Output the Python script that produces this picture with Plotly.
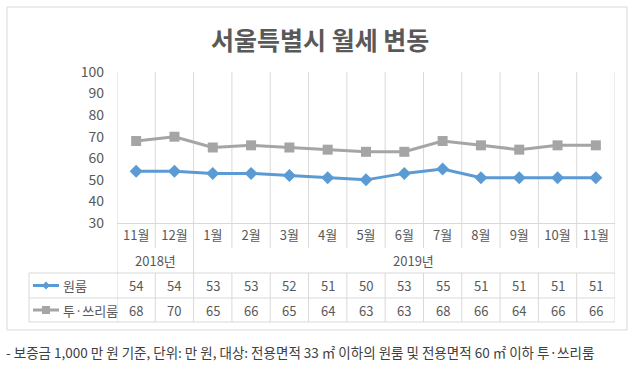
import plotly.graph_objects as go

months = ["11월", "12월", "1월", "2월", "3월", "4월", "5월", "6월", "7월", "8월", "9월", "10월", "11월"]
years = ["2018년", "2019년"]
year_spans = [2, 11]
series_names = ["원룸", "투·쓰리룸"]
oneroom = [54, 54, 53, 53, 52, 51, 50, 53, 55, 51, 51, 51, 51]
tworoom = [68, 70, 65, 66, 65, 64, 63, 63, 68, 66, 64, 66, 66]
title = "서울특별시 월세 변동"
note = "- 보증금 1,000 만 원 기준, 단위: 만 원, 대상: 전용면적 33 ㎡ 이하의 원룸 및 전용면적 60 ㎡ 이하 투·쓰리룸"

W, H = 640, 380
FONT = "Noto Sans CJK KR"
TXT = "#595959"
GRID = "#D9D9D9"
BLUE = "#5B9BD5"
GRAY = "#A5A5A5"

def px(x):
    return x / W

def py(y):
    return 1 - y / H

X0, X1 = 117, 615
Y_TOP, Y_BOT = 72, 223
n = len(months)
xs = list(range(n))

fig = go.Figure()
fig.add_trace(go.Scatter(x=xs, y=oneroom, mode="lines+markers", name=series_names[0],
                         line=dict(color=BLUE, width=3),
                         marker=dict(symbol="diamond", size=10, color=BLUE)))
fig.add_trace(go.Scatter(x=xs, y=tworoom, mode="lines+markers", name=series_names[1],
                         line=dict(color=GRAY, width=3),
                         marker=dict(symbol="square", size=10, color=GRAY)))

shapes = []
annotations = []

def ann(x, y, text, size=13, color=TXT, xref="paper", xanchor="center"):
    annotations.append(dict(x=x, y=y, xref=xref, yref="paper", text=text, showarrow=False,
                            xanchor=xanchor, yanchor="middle",
                            font=dict(family=FONT, size=size, color=color)))

# outer border
shapes.append(dict(type="rect", xref="paper", yref="paper", x0=px(7), x1=px(627), y0=py(330), y1=py(7),
                   line=dict(color=GRID, width=1)))

# month row vertical lines
for i in range(n + 1):
    shapes.append(dict(type="line", xref="x", yref="paper", x0=i - 0.5, x1=i - 0.5,
                       y0=py(248), y1=py(223), line=dict(color=GRID, width=1)))
# year row boundaries
b = -0.5
shapes.append(dict(type="line", xref="x", yref="paper", x0=b, x1=b, y0=py(273), y1=py(248), line=dict(color=GRID, width=1)))
for k, (ys, yr) in enumerate(zip(year_spans, years)):
    ann(b + ys / 2 + (0.25 if k == 1 else 0), py(260.5), yr, xref="x")
    b += ys
    shapes.append(dict(type="line", xref="x", yref="paper", x0=b, x1=b, y0=py(273), y1=py(248), line=dict(color=GRID, width=1)))
# data rows
for i in range(n + 1):
    shapes.append(dict(type="line", xref="x", yref="paper", x0=i - 0.5, x1=i - 0.5,
                       y0=py(322), y1=py(273), line=dict(color=GRID, width=1)))
shapes.append(dict(type="line", xref="paper", yref="paper", x0=px(29), x1=px(29), y0=py(322), y1=py(273), line=dict(color=GRID, width=1)))
for yy in [273, 298, 322]:
    shapes.append(dict(type="line", xref="paper", yref="paper", x0=px(29), x1=px(X1), y0=py(yy), y1=py(yy), line=dict(color=GRID, width=1)))

for r, (vals, name, col, sym) in enumerate([(oneroom, series_names[0], BLUE, "diamond"),
                                            (tworoom, series_names[1], GRAY, "square")]):
    yc = 285.5 + r * 24.5
    for i, v in enumerate(vals):
        ann(i, py(yc), str(v), xref="x")
    # legend key
    shapes.append(dict(type="line", xref="paper", yref="paper", x0=px(33), x1=px(59), y0=py(yc), y1=py(yc),
                       line=dict(color=col, width=3)))
    if sym == "diamond":
        path = f"M {px(46)},{py(yc-4)} L {px(50)},{py(yc)} L {px(46)},{py(yc+4)} L {px(42)},{py(yc)} Z"
    else:
        path = f"M {px(42)},{py(yc-4)} L {px(50)},{py(yc-4)} L {px(50)},{py(yc+4)} L {px(42)},{py(yc+4)} Z"
    shapes.append(dict(type="path", xref="paper", yref="paper", path=path, fillcolor=col, line=dict(color=col, width=0)))
    ann(px(61), py(yc), name, xanchor="left")

ann(0.5, py(39), f"<b>{title}</b>", size=25)
ann(px(4), py(352), note, size=13.5, color="#404040", xanchor="left")

fig.update_layout(
    width=W, height=H, margin=dict(l=0, r=0, t=0, b=0, pad=0),
    paper_bgcolor="white", plot_bgcolor="white", showlegend=False,
    shapes=shapes, annotations=annotations,
    xaxis=dict(domain=[px(X0), px(X1)], range=[-0.5, n - 0.5], tickmode="array", tickvals=xs, ticktext=months,
               showgrid=False, zeroline=False, showline=True, linecolor=GRID, ticks="",
               tickfont=dict(family=FONT, size=13, color=TXT), automargin=False),
    yaxis=dict(domain=[py(Y_BOT), py(Y_TOP)], range=[30, 100], dtick=10, showgrid=False, zeroline=False,
               showline=False, ticks="", tickfont=dict(family=FONT, size=14, color=TXT), ticklabelstandoff=12,
               automargin=False),
)
# vertical gridlines at category boundaries in the plot area
for i in range(n + 1):
    fig.add_shape(type="line", xref="x", yref="y", x0=i - 0.5, x1=i - 0.5, y0=30, y1=100,
                  line=dict(color=GRID, width=1), layer="below")

fig.write_html("out.html", config={"displayModeBar": False},
               post_script="document.body.style.margin='0';")
